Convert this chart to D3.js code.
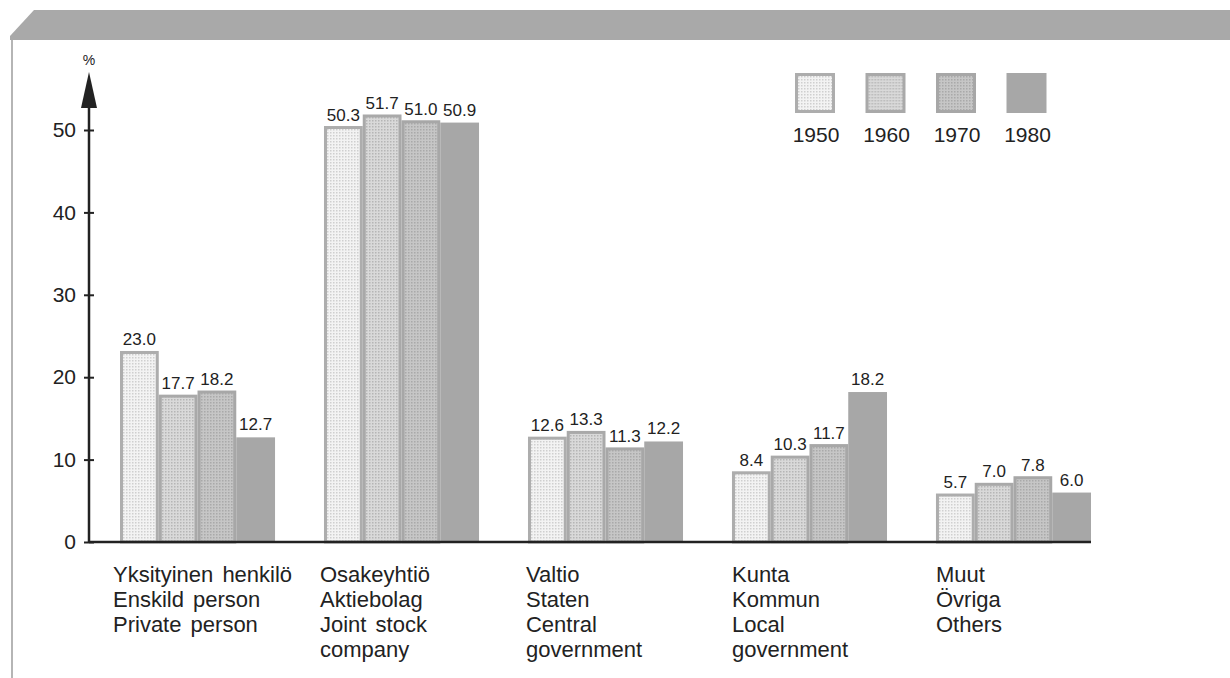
<!DOCTYPE html>
<html lang="en">
<head>
<meta charset="utf-8">
<title>Ownership shares</title>
<script src="https://d3js.org/d3.v7.min.js"></script>
<style>
body {
  margin: 0;
  background-color: #fff;
  font-family: "Liberation Sans", Arial, sans-serif;
}
text { fill: #222; }
</style>
</head>
<body>
<script>
// data
var years = ["1950", "1960", "1970", "1980"];
var categories = ["private", "jointstock", "state", "local", "others"];
var categoryLabels = [
  ["Yksityinen henkilö", "Enskild person", "Private person"],
  ["Osakeyhtiö", "Aktiebolag", "Joint stock", "company"],
  ["Valtio", "Staten", "Central", "government"],
  ["Kunta", "Kommun", "Local", "government"],
  ["Muut", "Övriga", "Others"]
];
var v1950 = [23.0, 50.3, 12.6, 8.4, 5.7];
var v1960 = [17.7, 51.7, 13.3, 10.3, 7.0];
var v1970 = [18.2, 51.0, 11.3, 11.7, 7.8];
var v1980 = [12.7, 50.9, 12.2, 18.2, 6.0];
var yTicks = [0, 10, 20, 30, 40, 50];

var series = [v1950, v1960, v1970, v1980];

var width = 1230, height = 678;
var svg = d3.select("body").append("svg").attr("width", width).attr("height", height);

// dotted fills
var defs = svg.append("defs");
var pats = [
  {id: "p1950", bg: "#f3f3f3", dot: "#cfcfcf"},
  {id: "p1960", bg: "#d9d9d9", dot: "#b5b5b5"},
  {id: "p1970", bg: "#c6c6c6", dot: "#a9a9a9"}
];
pats.forEach(function(p) {
  var pt = defs.append("pattern").attr("id", p.id)
    .attr("width", 3).attr("height", 3).attr("patternUnits", "userSpaceOnUse");
  pt.append("rect").attr("width", 3).attr("height", 3).attr("fill", p.bg);
  pt.append("rect").attr("width", 1.5).attr("height", 1.5).attr("fill", p.dot);
});
var fills = ["url(#p1950)", "url(#p1960)", "url(#p1970)", "#a7a7a7"];
var strokes = ["#adadad", "#a9a9a9", "#a7a7a7", "none"];

// frame: grey band with cut corner + left edge
svg.append("path")
  .attr("d", "M10,40 L10,36 L34,10 L1230,10 L1230,40 Z")
  .attr("fill", "#a9a9a9");
svg.append("line").attr("x1", 12).attr("x2", 12).attr("y1", 40).attr("y2", 678)
  .attr("stroke", "#b5b5b5").attr("stroke-width", 2);

var y = d3.scaleLinear().domain([0, 50]).range([542, 130]);
var x0 = d3.scaleBand().domain(categories).range([120, 1091]).paddingInner(0.24).paddingOuter(0);
var x1 = d3.scaleBand().domain(years).range([0, x0.bandwidth()]);

// bars
var groups = svg.append("g").selectAll("g")
  .data(categories).enter().append("g")
  .attr("transform", function(d) { return "translate(" + x0(d) + ",0)"; });

years.forEach(function(yr, i) {
  groups.append("rect")
    .attr("x", function(d) { return x1(yr) + (i < 3 ? 1.5 : 0); })
    .attr("width", x1.bandwidth() - (i < 3 ? 3 : 0))
    .attr("y", function(d, j) { return y(series[i][j]); })
    .attr("height", function(d, j) { return y(0) - y(series[i][j]); })
    .attr("fill", fills[i])
    .attr("stroke", strokes[i])
    .attr("stroke-width", 3);
  groups.append("text")
    .attr("x", x1(yr) + x1.bandwidth() / 2)
    .attr("y", function(d, j) { return y(series[i][j]) - 7; })
    .attr("text-anchor", "middle")
    .attr("font-size", 17)
    .text(function(d, j) { return series[i][j].toFixed(1); });
});

// x axis baseline
svg.append("line").attr("x1", 89).attr("x2", 1091).attr("y1", y(0)).attr("y2", y(0))
  .attr("stroke", "#222").attr("stroke-width", 2.5);

// y axis with arrow
var yAxis = d3.axisLeft(y).tickValues(yTicks).tickSize(5).tickPadding(8);
var ga = svg.append("g").attr("transform", "translate(89,0)").call(yAxis);
ga.select(".domain").remove();
ga.selectAll(".tick line").attr("x2", 5).attr("x1", -5).attr("stroke", "#222").attr("stroke-width", 2);
ga.selectAll(".tick text").attr("font-size", 21).attr("font-family", "Liberation Sans, Arial, sans-serif")
  .attr("fill", "#222").attr("x", -13);
svg.append("line").attr("x1", 89).attr("x2", 89).attr("y1", y(0) + 1).attr("y2", 100)
  .attr("stroke", "#222").attr("stroke-width", 2.5);
svg.append("path").attr("d", "M89,72 L97,108 L81,108 Z").attr("fill", "#222");
svg.append("text").attr("x", 89).attr("y", 65).attr("text-anchor", "middle")
  .attr("font-size", 14).text("%");

// category labels
var labelShift = [-7, -4, -2, 0, 0];
svg.append("g").selectAll("text")
  .data(categories).enter().append("text")
  .attr("font-size", 22)
  .attr("word-spacing", 3)
  .each(function(d, i) {
    var t = d3.select(this);
    categoryLabels[i].forEach(function(line, k) {
      t.append("tspan").attr("x", x0(d) + labelShift[i]).attr("y", 582 + k * 25).text(line);
    });
  });

// legend
var lg = svg.append("g").selectAll("g")
  .data(years).enter().append("g")
  .attr("transform", function(d, i) { return "translate(" + (795 + i * 70.5) + ",73)"; });
lg.append("rect")
  .attr("x", function(d, i) { return i < 3 ? 1.5 : 0; })
  .attr("y", function(d, i) { return i < 3 ? 1.5 : 0; })
  .attr("width", function(d, i) { return i < 3 ? 37 : 40; })
  .attr("height", function(d, i) { return i < 3 ? 37 : 40; })
  .attr("fill", function(d, i) { return fills[i]; })
  .attr("stroke", function(d, i) { return strokes[i]; })
  .attr("stroke-width", 3);
lg.append("text")
  .attr("x", 21).attr("y", 69)
  .attr("text-anchor", "middle")
  .attr("font-size", 21)
  .text(function(d) { return d; });
</script>
</body>
</html>
